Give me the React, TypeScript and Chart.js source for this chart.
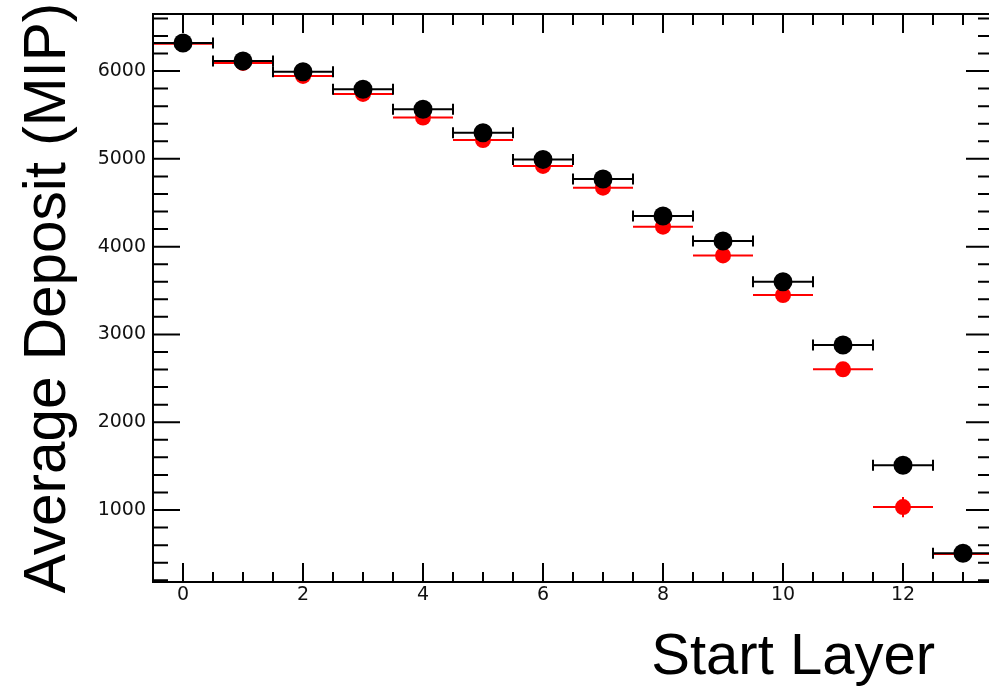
import { useEffect, useRef } from 'react';
import { Chart, registerables } from 'chart.js';

Chart.register(...registerables);

// ---- data ----
const layers = [0, 1, 2, 3, 4, 5, 6, 7, 8, 9, 10, 11, 12, 13];
const blackDeposit = [6320, 6114, 5992, 5792, 5564, 5297, 4994, 4770, 4349, 4064, 3600, 2879, 1510, 507];
const blackYErr = [10, 10, 10, 10, 10, 10, 10, 10, 12, 12, 15, 20, 30, 20];
const redDeposit = [6310, 6093, 5945, 5740, 5470, 5215, 4920, 4672, 4228, 3900, 3448, 2603, 1033, 500];
const redYErr = [15, 15, 15, 20, 20, 20, 25, 25, 30, 35, 40, 50, 115, 30];
const layerHalfWidth = 0.5;

const xTickValues = [0, 2, 4, 6, 8, 10, 12];
const yTickValues = [1000, 2000, 3000, 4000, 5000, 6000];
const xMinorStep = 0.5;
const yMinorStep = 200;
const xRange = [-0.5, 13.5];
const yRange = [180, 6650];

const FONT = "'Liberation Sans', Arial, Helvetica, sans-serif";
const TICK_FONT = "'DejaVu Sans', 'Liberation Sans', sans-serif";

// plot frame (pixels) — the right edge runs slightly past the visible page, as in the original
const AREA = { left: 153, right: 993, top: 14, bottom: 582 };

const areaPlugin = {
  id: 'fixedArea',
  afterLayout(chart: any) {
    const xs = chart.scales.x;
    const ys = chart.scales.y;
    xs.left = AREA.left;
    xs.right = AREA.right;
    xs.width = AREA.right - AREA.left;
    xs.top = AREA.bottom;
    ys.top = AREA.top;
    ys.bottom = AREA.bottom;
    ys.height = AREA.bottom - AREA.top;
    ys.right = AREA.left - 1;
    xs.configure();
    ys.configure();
    const ca = chart.chartArea;
    ca.left = AREA.left;
    ca.right = AREA.right;
    ca.top = AREA.top;
    ca.bottom = AREA.bottom;
    ca.width = AREA.right - AREA.left;
    ca.height = AREA.bottom - AREA.top;
  },
};

const errorBarPlugin = {
  id: 'errorBars',
  beforeDatasetDraw(chart: any, args: any) {
    const ds: any = chart.data.datasets[args.index];
    const xs = chart.scales.x;
    const ys = chart.scales.y;
    const ctx = chart.ctx;
    ctx.save();
    ctx.strokeStyle = ds.errColor;
    ctx.lineWidth = 2;
    ds.data.forEach((p: any, i: number) => {
      const ex = ds.errX[i];
      const ey = ds.errY[i];
      const x0 = xs.getPixelForValue(p.x - ex);
      const x1 = xs.getPixelForValue(p.x + ex);
      const xc = xs.getPixelForValue(p.x);
      const yc = ys.getPixelForValue(p.y);
      const y0 = ys.getPixelForValue(p.y - ey);
      const y1 = ys.getPixelForValue(p.y + ey);
      ctx.beginPath();
      ctx.moveTo(x0, yc);
      ctx.lineTo(x1, yc);
      ctx.moveTo(xc, y0);
      ctx.lineTo(xc, y1);
      if (ds.capSize) {
        const c = ds.capSize;
        ctx.moveTo(x0, yc - c);
        ctx.lineTo(x0, yc + c);
        ctx.moveTo(x1, yc - c);
        ctx.lineTo(x1, yc + c);
      }
      ctx.stroke();
    });
    ctx.restore();
  },
};

const framePlugin = {
  id: 'rootFrame',
  afterDatasetsDraw(chart: any) {
    const { ctx, chartArea } = chart;
    const { left, right, top, bottom } = chartArea;
    const xs = chart.scales.x;
    const ys = chart.scales.y;
    ctx.save();
    ctx.strokeStyle = '#000';
    ctx.lineWidth = 2;
    ctx.beginPath();
    ctx.rect(left, top, right - left, bottom - top);
    ctx.stroke();
    ctx.beginPath();
    // x ticks (bottom and top)
    const nx = Math.round((xRange[1] - xRange[0]) / xMinorStep);
    for (let k = 0; k <= nx; k++) {
      const v = xRange[0] + k * xMinorStep;
      const major = xTickValues.includes(v);
      const px = xs.getPixelForValue(v);
      const lenB = major ? 19 : 10;
      const lenT = major ? 19 : 11;
      ctx.moveTo(px, bottom);
      ctx.lineTo(px, bottom - lenB);
      ctx.moveTo(px, top);
      ctx.lineTo(px, top + lenT);
    }
    // y ticks (left and right)
    for (let v = yMinorStep; v <= yRange[1]; v += yMinorStep) {
      if (v < yRange[0]) continue;
      const major = yTickValues.includes(v);
      const py = ys.getPixelForValue(v);
      const len = major ? 27 : 15;
      ctx.moveTo(left, py);
      ctx.lineTo(left + len, py);
      ctx.moveTo(right, py);
      ctx.lineTo(right - len, py);
    }
    ctx.stroke();
    ctx.restore();
  },
  afterDraw(chart: any) {
    const { ctx, chartArea } = chart;
    ctx.save();
    ctx.font = `58px ${FONT}`;
    ctx.fillStyle = '#000';
    ctx.textAlign = 'right';
    ctx.textBaseline = 'alphabetic';
    ctx.fillText('Start Layer', chartArea.right - 58, 674);
    ctx.restore();
  },
};

export default function App() {
  const ref = useRef<HTMLCanvasElement | null>(null);

  useEffect(() => {
    if (!ref.current) return;
    const chart = new Chart(ref.current, {
      type: 'scatter',
      data: {
        datasets: [
          {
            label: 'Black',
            data: layers.map((x, i) => ({ x, y: blackDeposit[i] })),
            pointRadius: 9.5,
            pointBackgroundColor: '#000',
            pointBorderWidth: 0,
            pointHoverRadius: 9.5,
            showLine: false,
            errX: layers.map(() => layerHalfWidth),
            errY: blackYErr,
            capSize: 5.5,
            errColor: '#000',
          } as any,
          {
            label: 'Red',
            data: layers.map((x, i) => ({ x, y: redDeposit[i] })),
            pointRadius: 8,
            pointBackgroundColor: '#ff0000',
            pointBorderWidth: 0,
            pointHoverRadius: 8,
            showLine: false,
            errX: layers.map(() => layerHalfWidth),
            errY: redYErr,
            capSize: 0,
            errColor: '#ff0000',
          } as any,
        ],
      },
      options: {
        animation: false,
        responsive: true,
        maintainAspectRatio: false,
        devicePixelRatio: 1,
        layout: { padding: { top: 14, right: 7, left: 1, bottom: 0 } },
        plugins: { legend: { display: false }, tooltip: { enabled: false } },
        scales: {
          x: {
            type: 'linear',
            min: xRange[0],
            max: xRange[1],
            grid: { display: false, drawTicks: false },
            border: { display: false },
            afterBuildTicks: (s: any) => {
              s.ticks = xTickValues.map((v) => ({ value: v }));
            },
            afterFit: (s: any) => {
              s.height = 104;
              s.paddingLeft = 0;
              s.paddingRight = 0;
            },
            ticks: {
              callback: (v: any) => String(v),
              font: { family: TICK_FONT, size: 19 },
              color: '#111',
              padding: 2,
              maxRotation: 0,
              autoSkip: false,
            },
          },
          y: {
            type: 'linear',
            min: yRange[0],
            max: yRange[1],
            grid: { display: false, drawTicks: false },
            border: { display: false },
            afterBuildTicks: (s: any) => {
              s.ticks = yTickValues.map((v) => ({ value: v }));
            },
            afterFit: (s: any) => {
              s.width = 152;
              s.paddingTop = 0;
              s.paddingBottom = 0;
            },
            ticks: {
              callback: (v: any) => String(v),
              font: { family: TICK_FONT, size: 19 },
              color: '#111',
              padding: 6,
              autoSkip: false,
            },
            title: {
              display: true,
              text: 'Average Deposit (MIP)',
              color: '#000',
              font: { family: FONT, size: 58.5, lineHeight: 1 },
              padding: { top: 19, bottom: 0 },
            },
          },
        },
      },
      plugins: [areaPlugin, errorBarPlugin, framePlugin],
    });
    return () => chart.destroy();
  }, []);

  return (
    <div
      style={{
        position: 'fixed',
        left: 0,
        top: 0,
        width: 989,
        height: 686,
        overflow: 'hidden',
        background: '#fff',
      }}
    >
      <div style={{ position: 'relative', width: 1000, height: 686 }}>
        <canvas ref={ref} />
      </div>
    </div>
  );
}
